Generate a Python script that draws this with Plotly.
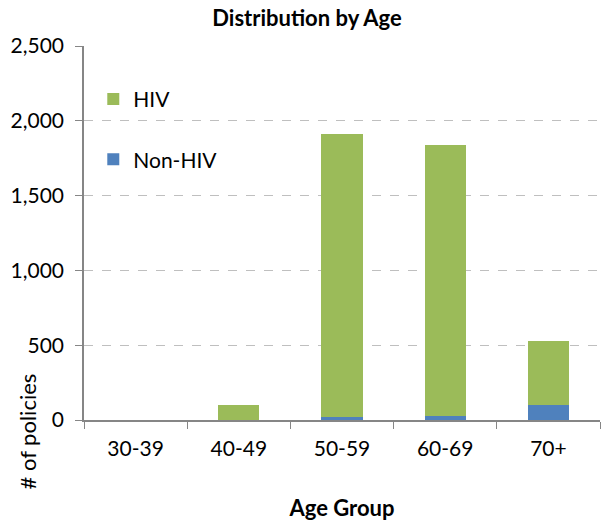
import plotly.graph_objects as go

age_groups = ["30-39", "40-49", "50-59", "60-69", "70+"]
non_hiv = [0, 2, 20, 28, 100]
hiv = [0, 98, 1895, 1810, 425]

FONT = "Lato, Open Sans, sans-serif"

fig = go.Figure()
fig.add_trace(go.Bar(x=age_groups, y=non_hiv, name="Non-HIV",
                     marker=dict(color="#4F81BD", line=dict(width=0)),
                     legendgroup="b", legendrank=2))
fig.add_trace(go.Bar(x=age_groups, y=hiv, name="HIV",
                     marker=dict(color="#9BBB59", line=dict(width=0)),
                     legendgroup="a", legendrank=1))

fig.update_layout(
    width=602, height=524,
    barmode="stack", bargap=0.6,
    plot_bgcolor="white", paper_bgcolor="white",
    margin=dict(l=84, r=2, t=46, b=104),
    font=dict(family=FONT, size=21, color="#000"),
    title=dict(text="<b>Distribution by Age</b>", x=0.51, xanchor="center",
               y=0.965, yanchor="middle", font=dict(size=22)),
    legend=dict(x=0.018, y=0.912, xanchor="left", yanchor="top",
                traceorder="grouped", tracegroupgap=30,
                bgcolor="rgba(0,0,0,0)", font=dict(size=21)),
    showlegend=True,
)

fig.update_yaxes(range=[0, 2500], tick0=0, dtick=500, tickformat=",",
                 showgrid=True, gridcolor="#BFBFBF", griddash="dash",
                 showline=True, linecolor="#868686", linewidth=1.5,
                 ticks="outside", ticklen=7, tickcolor="#868686",
                 ticklabelstandoff=7,
                 zeroline=False, tickfont=dict(size=21))
fig.update_xaxes(showline=True, linecolor="#868686", linewidth=1.5,
                 ticks="outside", ticklen=7, tickcolor="#868686",
                 tickson="boundaries", tickfont=dict(size=21),
                 ticklabelstandoff=9,
                 title=dict(text="<b>Age Group</b>", font=dict(size=22),
                            standoff=42))

fig.add_annotation(text="# of policies", textangle=-90,
                   xref="paper", yref="paper", x=-0.11, y=-0.03,
                   xanchor="center", yanchor="middle",
                   showarrow=False, font=dict(size=22))

fig.write_html("out.html")
